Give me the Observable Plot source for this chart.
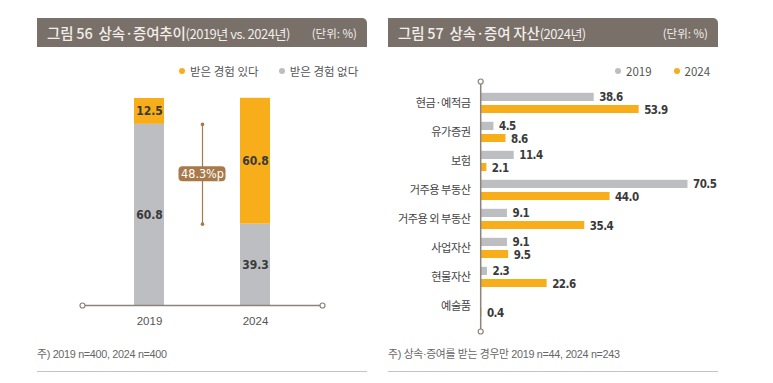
<!DOCTYPE html>
<html>
<head>
<meta charset="utf-8">
<script src="https://cdn.jsdelivr.net/npm/d3@7"></script>
<script src="https://cdn.jsdelivr.net/npm/@observablehq/plot@0.6"></script>
<style>
  body { margin: 0; background: #fff; font-family: "Noto Sans CJK KR", "Noto Sans", sans-serif; }
  #page { position: relative; width: 773px; height: 383px; overflow: hidden; background: #fff; }
  #page svg text { font-stretch: condensed; }
  .tbar { position: absolute; top: 18px; height: 29px; width: 330px; background: #797069; color: #f2eeea;
          border-radius: 0 5px 0 0; display: flex; align-items: center; justify-content: space-between;
          padding: 0 10px 0 10px; box-sizing: border-box; white-space: nowrap; }
  .tbar .t { font-size: 14.5px; font-weight: 500; letter-spacing: -0.2px; }
  .tbar .t small { font-size: 13px; font-weight: 400; letter-spacing: -0.5px; }
  .tbar .u { font-size: 11.5px; }
  .legend { position: absolute; top: 63px; display: flex; align-items: center; font-size: 11.5px; color: #555; white-space: nowrap; }
  .legend .dot { display: inline-block; width: 6px; height: 6px; border-radius: 50%; margin-right: 5px; }
  .legend .item { display: flex; align-items: center; }
  .note { position: absolute; top: 345px; font-size: 10.8px; color: #666; font-family: "Liberation Sans", "Noto Sans CJK KR", sans-serif; letter-spacing: -0.3px; white-space: nowrap; }
  .rule { position: absolute; top: 371px; width: 330px; height: 0; border-top: 1.5px solid #c4c4c4; }
  .chart { position: absolute; }
</style>
</head>
<body>
<div id="page">
  <div class="tbar" style="left:37px;"><span class="t">그림 56&nbsp; 상속·증여추이<small>(2019년 vs. 2024년)</small></span><span class="u">(단위: %)</span></div>
  <div class="tbar" style="left:388px;"><span class="t">그림 57&nbsp; 상속·증여 자산<small>(2024년)</small></span><span class="u">(단위: %)</span></div>
  <div class="legend" id="legL" style="left:179px;"></div>
  <div class="legend" id="legR" style="left:615px;"></div>
  <div class="chart" id="left" style="left:37px; top:60px;"></div>
  <div class="chart" id="right" style="left:388px; top:55px;"></div>
  <div class="note" style="left:37px;">주) 2019 n=400, 2024 n=400</div>
  <div class="note" style="left:388px;">주) 상속·증여를 받는 경우만 2019 n=44, 2024 n=243</div>
  <div class="rule" style="left:37px;"></div>
  <div class="rule" style="left:388px;"></div>
</div>
<script>
// ---------- Data: 그림 56 ----------
const years = ["2019", "2024"];
const seriesNames = ["받은 경험 있다", "받은 경험 없다"];
const received = [12.5, 60.8];            // 받은 경험 있다
const notReceived = [87.5, 39.3];         // 받은 경험 없다 (drawn bar height)
const notReceivedLabels = ["60.8", "39.3"]; // labels as printed in the original
const gapLabel = "48.3%p";

// ---------- Data: 그림 57 ----------
const assets = ["현금·예적금", "유가증권", "보험", "거주용 부동산", "거주용 외 부동산", "사업자산", "현물자산", "예술품"];
const seriesYears = ["2019", "2024"];
const v2019 = [38.6, 4.5, 11.4, 70.5, 9.1, 9.1, 2.3, null];
const v2024 = [53.9, 8.6, 2.1, 44.0, 35.4, 9.5, 22.6, 0.4];

// ---------- Styles ----------
const ORANGE = "#f8ad1b";
const GRAY = "#bdbec1";
const BROWN = "#a87a4a";
const AXIS = "#8c847c";
const NUMFONT = "'DejaVu Sans Condensed', 'DejaVu Sans', sans-serif";

// Legends
function legend(el, names, colors) {
  const box = document.getElementById(el);
  names.forEach((n, i) => {
    const it = document.createElement("span");
    it.className = "item";
    it.style.marginRight = i < names.length - 1 ? (el === "legL" ? "20px" : "22px") : "0";
    it.innerHTML = `<span class="dot" style="background:${colors[i]}"></span>${n}`;
    box.appendChild(it);
  });
}
legend("legL", seriesNames, [ORANGE, GRAY]);
legend("legR", seriesYears, [GRAY, ORANGE]);

// ---------- Left chart ----------
const gapKey = "차이";
const rows = [];
years.forEach((y, i) => {
  rows.push({year: y, type: seriesNames[1], value: notReceived[i], label: notReceivedLabels[i]});
  rows.push({year: y, type: seriesNames[0], value: received[i], label: received[i].toFixed(1)});
});
const bracket = [{key: gapKey, y1: notReceived[0], y2: notReceived[1], mid: (notReceived[0] + notReceived[1]) / 2, label: gapLabel}];
const bracketEnds = [{key: gapKey, y: notReceived[0]}, {key: gapKey, y: notReceived[1]}];

const left = Plot.plot({
  width: 330, height: 280,
  marginLeft: 45, marginRight: 45, marginTop: 30, marginBottom: 35,
  style: {fontFamily: "'Liberation Sans', 'Noto Sans', sans-serif", fontSize: "11.5px", color: "#555", background: "transparent"},
  x: {type: "band", domain: [years[0], gapKey, years[1]], range: [72.5, 257.5], padding: 0.426,
      tickSize: 0, tickPadding: 11, tickFormat: d => d === gapKey ? "" : d, label: null},
  y: {domain: [0, 100], range: [245, 38], axis: null},
  color: {domain: seriesNames, range: [ORANGE, GRAY]},
  marks: [
    Plot.barY(rows, {x: "year", y: "value", fill: "type"}),
    Plot.text(rows, Plot.stackY({x: "year", y: "value", text: "label", fill: "#3a3a3a",
      fontSize: 12, fontWeight: 600, fontFamily: NUMFONT})),
    Plot.ruleX(bracket, {x: "key", y1: "y1", y2: "y2", stroke: BROWN, strokeWidth: 1.2}),
    Plot.dot(bracketEnds, {x: "key", y: "y", r: 1.8, fill: BROWN}),
    Plot.barY(bracket, {x: "key", y1: "mid", y2: "mid", insetLeft: -8.5, insetRight: -8.5,
      insetTop: -7.5, insetBottom: -7.5, rx: 4, fill: BROWN}),
    Plot.text(bracket, {x: "key", y: "mid", text: "label", fill: "#fff", fontSize: 12.5, fontFamily: NUMFONT}),
    Plot.ruleY([0], {stroke: AXIS, strokeWidth: 1.5}),
    Plot.dot([0], {y: d => d, frameAnchor: "left", r: 2.5, fill: "#fff", stroke: AXIS, strokeWidth: 1.2}),
    Plot.dot([0], {y: d => d, frameAnchor: "right", r: 2.5, fill: "#fff", stroke: AXIS, strokeWidth: 1.2})
  ]
});
document.getElementById("left").appendChild(left);

// ---------- Right chart ----------
const r19 = assets.map((c, i) => ({cat: c, v: v2019[i]})).filter(d => d.v != null);
const r24 = assets.map((c, i) => ({cat: c, v: v2024[i]})).filter(d => d.v != null);

const right = Plot.plot({
  width: 340, height: 285,
  marginLeft: 91, marginRight: 0, marginTop: 26, marginBottom: 9,
  style: {fontFamily: "'Noto Sans CJK KR', sans-serif", fontSize: "11.2px", color: "#444", background: "transparent", letterSpacing: "-0.5px"},
  x: {domain: [0, 80], range: [92.2, 327.4], axis: null},
  y: {type: "band", domain: assets, range: [30.65, 268.25], padding: 0, tickSize: 0, tickPadding: 9, label: null},
  marks: [
    Plot.barX(r19, {x: "v", y: "cat", fill: GRAY, insetTop: 4.8, insetBottom: 16}),
    Plot.barX(r24, {x: "v", y: "cat", fill: ORANGE, insetTop: 17, insetBottom: 4}),
    Plot.text(r19, {x: "v", y: "cat", text: d => d.v.toFixed(1), dx: 5, dy: -5.5, textAnchor: "start",
      fill: "#3a3a3a", fontSize: 11.5, fontWeight: 600, fontFamily: NUMFONT}),
    Plot.text(r24, {x: "v", y: "cat", text: d => d.v.toFixed(1), dx: 5, dy: 7, textAnchor: "start",
      fill: "#3a3a3a", fontSize: 11.5, fontWeight: 600, fontFamily: NUMFONT}),
    Plot.ruleX([0], {stroke: AXIS, strokeWidth: 1.5}),
    Plot.dot([0], {x: d => d, frameAnchor: "top", r: 2.5, fill: "#fff", stroke: AXIS, strokeWidth: 1.2}),
    Plot.dot([0], {x: d => d, frameAnchor: "bottom", r: 2.5, fill: "#fff", stroke: AXIS, strokeWidth: 1.2})
  ]
});
document.getElementById("right").appendChild(right);
</script>
</body>
</html>
